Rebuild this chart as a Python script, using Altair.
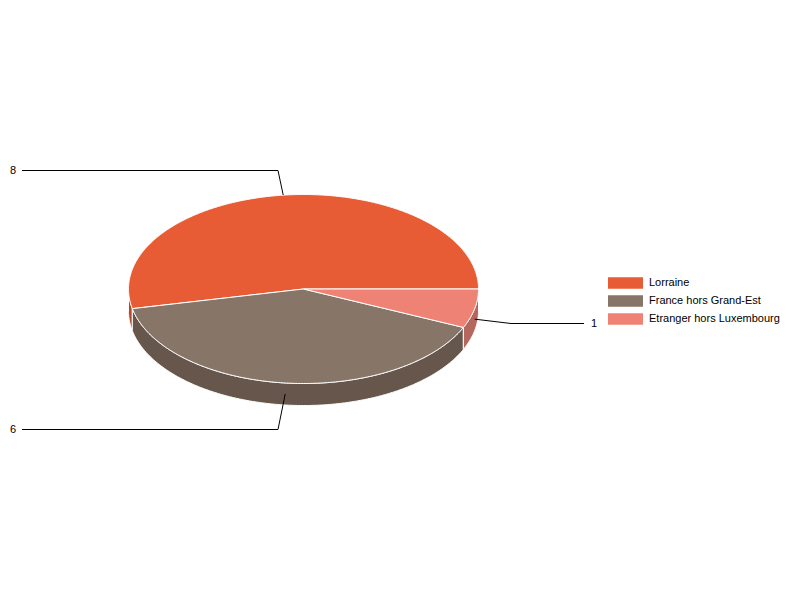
import math
import altair as alt

categories = ["Lorraine", "France hors Grand-Est", "Etranger hors Luxembourg"]
values = [8, 6, 1]
top_colors = ["#E85C35", "#877567", "#EE8274"]
side_colors = ["#B3492B", "#66564B", "#B4675C"]

FONT = "Liberation Sans"
CX, CY, RX, RY, DEPTH = 303.5, 288.5, 175.0, 94.5, 22.0
# Leader layout for each slice: anchor tweak, elbow, label end x
leader_depth = [0, 11, 10.5]
anchor_dx = [-2, 0, 0]
elbow = [(278, 170), (278, 429), (511, 323)]
end_x = [22, 22, 584]
label_x = [13, 13, 594]


def pt(deg, drop=0.0):
    a = math.radians(deg)
    return [CX + RX * math.cos(a), CY - RY * math.sin(a) + drop]


def arc(a0, a1, drop=0.0):
    n = max(2, int(abs(a1 - a0) * 2))
    return [pt(a0 + (a1 - a0) * i / n, drop) for i in range(n + 1)]


def feature(kind, name, coords):
    return {
        "type": "Feature",
        "properties": {"name": name},
        "geometry": {"type": kind, "coordinates": coords},
    }


total = sum(values)
tops, sides, leaders, labels = [], [], [], []
start = 0.0
for i, (name, v) in enumerate(zip(categories, values)):
    end = start + 360.0 * v / total
    tops.append(feature("Polygon", name, [[[CX, CY]] + arc(start, end) + [[CX, CY]]]))
    lo, hi = max(start, 180.0), min(end, 360.0)
    if hi > lo:
        ring = arc(lo, hi) + arc(hi, lo, DEPTH)
        sides.append(feature("Polygon", name, [ring + [ring[0]]]))
    mid = (start + end) / 2
    anchor = pt(mid, leader_depth[i])
    anchor[0] += anchor_dx[i]
    ex, ey = elbow[i]
    leaders.append(feature("LineString", name, [anchor, [ex, ey], [end_x[i], ey]]))
    labels.append({"lon": label_x[i], "lat": ey + 0.5, "text": str(v)})
    start = end

PROJ = dict(type="identity", scale=1, translate=[-8, -7.5])

side_layer = (
    alt.Chart(alt.Data(values=sides))
    .mark_geoshape(stroke="white", strokeWidth=1)
    .encode(
        fill=alt.Fill(
            "properties.name:N",
            scale=alt.Scale(domain=categories, range=side_colors),
            legend=None,
        )
    )
    .project(**PROJ)
)

top_layer = (
    alt.Chart(alt.Data(values=tops))
    .mark_geoshape(stroke="white", strokeWidth=1)
    .encode(
        color=alt.Color(
            "properties.name:N",
            scale=alt.Scale(domain=categories, range=top_colors),
            legend=alt.Legend(
                title=None,
                orient="none",
                legendX=600,
                legendY=266,
                padding=0,
                symbolType="M-1,-0.33H1V0.33H-1Z",
                symbolSize=1225,
                symbolStrokeWidth=0,
                symbolOpacity=1,
                clipHeight=18,
                rowPadding=0,
                labelFont=FONT,
                labelFontSize=11,
                labelColor="#000000",
                labelOffset=6,
                labelLimit=300,
            ),
        )
    )
    .project(**PROJ)
)

leader_layer = (
    alt.Chart(alt.Data(values=leaders))
    .mark_geoshape(filled=False, stroke="#000000", strokeWidth=1)
    .project(**PROJ)
)

label_layer = (
    alt.Chart(alt.Data(values=labels))
    .mark_text(font=FONT, fontSize=11, color="#000000", align="center", baseline="middle")
    .encode(longitude="lon:Q", latitude="lat:Q", text="text:N")
    .project(**PROJ)
)

chart = (
    alt.layer(side_layer, top_layer, leader_layer, label_layer)
    .resolve_scale(fill="independent", color="independent")
    .properties(
        width=784,
        height=584,
        padding=0,
        autosize=alt.AutoSizeParams(type="none"),
        background="white",
    )
    .configure_view(stroke=None)
)

chart.save("out.html", embed_options={"renderer": "svg", "actions": False})
